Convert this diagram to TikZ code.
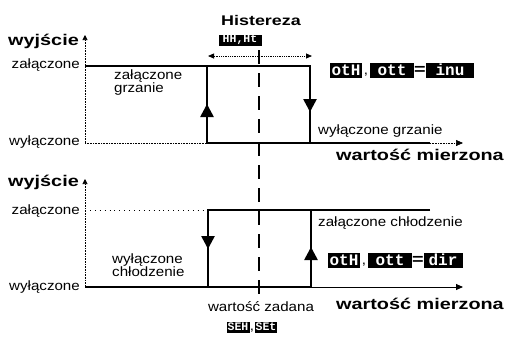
\documentclass[tikz,border=0pt]{standalone}
\usepackage{fontspec}
\setmainfont{Liberation Sans}[FakeStretch=1.12]
\newfontfamily\headfont{Liberation Sans}[FakeStretch=1.28]
\setmonofont{Liberation Mono}
\usetikzlibrary{arrows.meta,positioning}

\tikzset{
  state/.style={line width=2.6pt},
  axis/.style={densely dotted, line width=0.6pt},
  lbl/.style={inner sep=0pt, font=\fontsize{13.5}{13}\selectfont},
  head/.style={inner sep=0pt, font=\headfont\bfseries\fontsize{15.5}{16}\selectfont},
  disp/.style={fill=black, text=white, inner sep=0pt, minimum height=15pt,
    font=\ttfamily\bfseries\fontsize{16}{16}\selectfont},
  smalldisp/.style={disp, minimum height=11pt, font=\ttfamily\bfseries\fontsize{11.5}{11.5}\selectfont},
  flow/.style={state, -{Triangle[width=13pt,length=13pt]}},
  axtip/.style={-{Triangle[width=5pt,length=5pt]}},
}

\begin{document}
\begin{tikzpicture}[x=1pt,y=-1pt]
    \useasboundingbox (0,0) rectangle (509,338);

    % upper graph: heating
    \coordinate (yA0) at (85,143);  \coordinate (yA1) at (85,35);
    \coordinate (onA0) at (85,66);  \coordinate (offA1) at (207,143);
    \coordinate (hA1) at (207,66);  \coordinate (hA2) at (310,66);
    \coordinate (hA3) at (310,143); \coordinate (xA1) at (430,143);
    \coordinate (xA2) at (463,143);
    \coordinate (upA) at (207,104); \coordinate (dnA) at (310,112);

    \draw[axis, axtip] (yA0) -- (yA1);
    \draw[axis] (yA0) -- (offA1);
    \draw[axis, -{Triangle[width=6pt,length=7pt]}] (xA1) -- (xA2);
    \draw[state] (onA0) -- (hA2) -- (hA3) -- (xA1);
    \draw[state] (hA1) -- (offA1) -- (hA3);
    \draw[flow] (offA1) -- (upA);
    \draw[flow] (hA2) -- (dnA);

    % hysteresis span
    \coordinate (hyL) at (208,56); \coordinate (hyR) at (312,56);
    \draw[densely dotted, line width=0.8pt, {Triangle[width=5pt,length=6pt]}-{Triangle[width=5pt,length=6pt]}] (hyL) -- (hyR);

    % lower graph: cooling
    \coordinate (yB0) at (85,287);  \coordinate (yB1) at (85,179);
    \coordinate (onB0) at (85,210); \coordinate (cB1) at (208,210);
    \coordinate (cB2) at (208,287); \coordinate (cB3) at (311,287);
    \coordinate (cB4) at (311,210); \coordinate (xB1) at (430,210);
    \coordinate (xB2) at (463,287);
    \coordinate (dnB) at (208,249); \coordinate (upB) at (311,247);

    \draw[axis, axtip] (yB0) -- (yB1);
    \draw[loosely dotted, line width=0.9pt] (onB0) -- (cB1);
    \draw[line width=0.9pt, -{Triangle[width=6pt,length=7pt]}] (cB3) -- (xB2);
    \draw[state] (yB0) -- (cB3) -- (cB4);
    \draw[state] (xB1) -- (cB1) -- (cB2);
    \draw[flow] (cB1) -- (dnB);
    \draw[flow] (cB3) -- (upB);

    % set point
    \coordinate (spT) at (259,50); \coordinate (spB) at (259,297);
    \draw[line width=2.4pt, dash pattern=on 14pt off 9pt] (spT) -- (spB);

    % labels, upper graph
    \node[head, anchor=east] (outA) at (79,41) {wyjście};
    \node[lbl, anchor=east] (onA) at (80,65) {załączone};
    \node[lbl, anchor=east] (offA) at (80,142) {wyłączone};
    \node[lbl, align=left, anchor=north west] (heatOn) at (114,70) {załączone\\grzanie};
    \node[head, font=\headfont\bfseries\fontsize{14}{14}\selectfont] (hyst) at (261,20) {Histereza};
    \node[smalldisp, minimum width=43pt] (hystCode) at (240,40) {HH,Ht};
    \node[lbl, anchor=west] (heatOff) at (318,131) {wyłączone grzanie};
    \node[head, anchor=east] (measA) at (504,155) {wartość mierzona};

    \node[disp, minimum width=32pt] (otHA) at (346,70) {otH};
    \node[lbl] (comA) at (366,75) {,};
    \node[disp, minimum width=44pt] (ottA) at (392,70) {ott};
    \node[head] (eqA) at (420,70) {=};
    \node[disp, minimum width=48pt] (invA) at (450,70) {inu};

    % labels, lower graph
    \node[head, anchor=east] (outB) at (79,182) {wyjście};
    \node[lbl, anchor=east] (onB) at (80,211) {załączone};
    \node[lbl, anchor=east] (offB) at (80,287) {wyłączone};
    \node[lbl, align=left, anchor=north west] (coolOff) at (112,254) {wyłączone\\chłodzenie};
    \node[lbl, anchor=west] (coolOn) at (318,223) {załączone chłodzenie};
    \node[head, anchor=east] (measB) at (504,304) {wartość mierzona};

    \node[disp, minimum width=32pt] (otHB) at (344,260) {otH};
    \node[lbl] (comB) at (364,265) {,};
    \node[disp, minimum width=44pt] (ottB) at (390,260) {ott};
    \node[head] (eqB) at (418,260) {=};
    \node[disp, minimum width=39pt] (dirB) at (443,260) {dir};

    \node[lbl] (setp) at (261,307) {wartość zadana};
    \node[smalldisp, minimum width=23pt] (sehC) at (238,327) {SEH};
    \node[lbl] (comC) at (252,331) {,};
    \node[smalldisp, minimum width=22pt] (setC) at (266,327) {SEt};
\end{tikzpicture}
\end{document}
